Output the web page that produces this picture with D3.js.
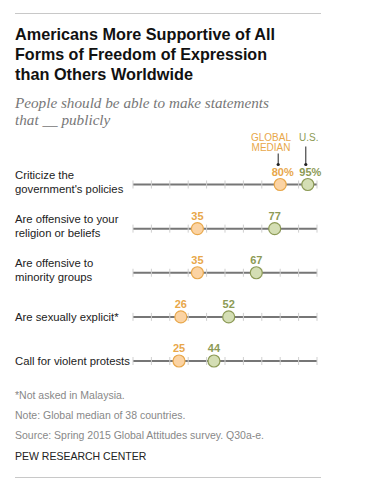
<!DOCTYPE html>
<html>
<head>
<meta charset="utf-8">
<script src="https://cdnjs.cloudflare.com/ajax/libs/d3/7.8.5/d3.min.js"></script>
<style>
  body { margin: 0; background: #fff; }
  svg { display: block; }
</style>
</head>
<body>
<svg id="chart" width="372" height="491"></svg>
<script>
var categories = [
  ["Criticize the", "government's policies"],
  ["Are offensive to your", "religion or beliefs"],
  ["Are offensive to", "minority groups"],
  ["Are sexually explicit*"],
  ["Call for violent protests"]
];
var globalMedian = [80, 35, 35, 26, 25];
var us = [95, 77, 67, 52, 44];
var ticks = [0, 10, 20, 30, 40, 50, 60, 70, 80, 90, 100];

var svg = d3.select("#chart"),
    orange = "#e8a74a",
    orangeFill = "#fbd3a3",
    green = "#8c9a55",
    greenFill = "#d4deb4",
    sans = "'Liberation Sans', Arial, sans-serif";

var x = d3.scaleLinear().domain([0, 100]).range([133, 317]);
var y = d3.scaleLinear().domain([0, 4]).range([184.5, 361]);

// top and bottom rules
svg.append("line").attr("x1", 15).attr("x2", 321).attr("y1", 13.5).attr("y2", 13.5)
    .attr("stroke", "#c8c8c8").attr("stroke-width", 1.2);
svg.append("line").attr("x1", 15).attr("x2", 321).attr("y1", 477.5).attr("y2", 477.5)
    .attr("stroke", "#c8c8c8").attr("stroke-width", 1.2);

// title - original font is narrower (Franklin Gothic), so fit each line to its width in the picture
var title = ["Americans More Supportive of All", "Forms of Freedom of Expression", "than Others Worldwide"];
var titleWidth = [260, 252, 178];
svg.selectAll(".title").data(title).enter().append("text")
    .attr("x", 15).attr("y", function (d, i) { return 39.5 + i * 20; })
    .attr("font-family", sans).attr("font-weight", "bold").attr("font-size", 16.5)
    .attr("fill", "#111").text(function (d) { return d; })
    .attr("textLength", function (d, i) { return titleWidth[i]; })
    .attr("lengthAdjust", "spacingAndGlyphs");

// subtitle
svg.selectAll(".sub").data(["People should be able to make statements", "that __ publicly"]).enter().append("text")
    .attr("x", 15).attr("y", function (d, i) { return 108 + i * 17; })
    .attr("font-family", "'Liberation Serif', Georgia, serif").attr("font-style", "italic")
    .attr("font-size", 15.2).attr("fill", "#777").text(function (d) { return d; });

// legend labels with leader lines
svg.append("text").attr("x", 271).attr("y", 140.5).attr("text-anchor", "middle")
    .attr("font-family", sans).attr("font-size", 10).attr("fill", orange).text("GLOBAL");
svg.append("text").attr("x", 271).attr("y", 151).attr("text-anchor", "middle")
    .attr("font-family", sans).attr("font-size", 10).attr("fill", orange).text("MEDIAN");
svg.append("text").attr("x", x(us[0]) + 1).attr("y", 140.5).attr("text-anchor", "middle")
    .attr("font-family", sans).attr("font-size", 10).attr("fill", green).text("U.S.");

[[globalMedian[0], 153.5], [us[0], 146.5]].forEach(function (p) {
    svg.append("line").attr("x1", x(p[0]) - 2).attr("x2", x(p[0]) - 2)
        .attr("y1", p[1]).attr("y2", 164.5).attr("stroke", "#222").attr("stroke-width", 1);
    svg.append("circle").attr("cx", x(p[0]) - 2).attr("cy", 164.5).attr("r", 1.6).attr("fill", "#222");
});

// rows
var rows = svg.selectAll(".row").data(categories).enter().append("g")
    .attr("transform", function (d, i) { return "translate(0," + y(i) + ")"; });

rows.each(function (d, i) {
    var g = d3.select(this);
    var first = d.length === 2 ? -6 : 4;
    d.forEach(function (line, j) {
        g.append("text").attr("x", 15).attr("y", first + j * 14)
            .attr("font-family", sans).attr("font-size", 11.3).attr("fill", "#222").text(line);
    });

    g.append("line").attr("x1", x(0)).attr("x2", x(100)).attr("y1", 0).attr("y2", 0)
        .attr("stroke", "#767676").attr("stroke-width", 2);
    g.selectAll(".tick").data(ticks).enter().append("line")
        .attr("x1", function (t) { return x(t); }).attr("x2", function (t) { return x(t); })
        .attr("y1", -4).attr("y2", 4).attr("stroke", "#cfcfcf").attr("stroke-width", 1);

    var pts = [
        { v: globalMedian[i], fill: orangeFill, stroke: orange },
        { v: us[i], fill: greenFill, stroke: green }
    ];
    pts.forEach(function (p) {
        g.append("circle").attr("cx", x(p.v)).attr("cy", 0).attr("r", 6)
            .attr("fill", p.fill).attr("stroke", p.stroke).attr("stroke-width", 1.2);
        g.append("text").attr("x", x(p.v) + (i === 0 ? 2.5 : 0)).attr("y", -9)
            .attr("text-anchor", "middle").attr("font-family", sans).attr("font-weight", "bold")
            .attr("font-size", 11).attr("fill", p.stroke)
            .text(i === 0 ? p.v + "%" : p.v);
    });
});

// notes
var notes = ["*Not asked in Malaysia.", "Note: Global median of 38 countries.",
             "Source: Spring 2015 Global Attitudes survey. Q30a-e."];
svg.selectAll(".note").data(notes).enter().append("text")
    .attr("x", 15).attr("y", function (d, i) { return 399 + i * 20; })
    .attr("font-family", sans).attr("font-size", 10.5).attr("fill", "#888")
    .text(function (d) { return d; });
svg.append("text").attr("x", 15).attr("y", 460).attr("font-family", sans)
    .attr("font-size", 10.5).attr("fill", "#222").text("PEW RESEARCH CENTER");
</script>
</body>
</html>
